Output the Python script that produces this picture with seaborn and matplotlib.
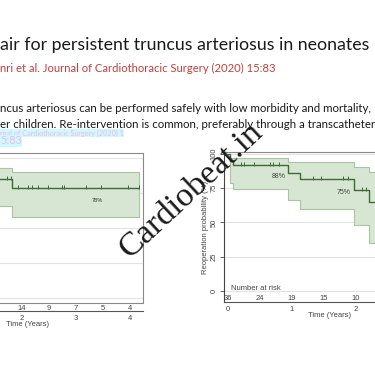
import numpy as np
import pandas as pd
import seaborn as sns
import matplotlib.pyplot as plt

# slide text (cropped at the left edge like the screenshot)
title = "air for persistent truncus arteriosus in neonates"
citation = "nri et al. Journal of Cardiothoracic Surgery (2020) 15:83"
body1 = "ncus arteriosus can be performed safely with low morbidity and mortality,"
body2 = "er children. Re-intervention is common, preferably through a transcatheter"
ghost1 = "rnal of Cardiothoracic Surgery (2020) 1"
ghost2 = "5:83"
watermark = "Cardiobeat.in"

# left panel: step curve + CI (years, %)
left_times = [1.5, 1.81, 4.17]
left_est = [85, 78.6, 78.6]
left_upper = [92.9, 90, 90]
left_lower = [65.7, 57.9, 57.9]
left_censor = [1.72, 1.79, 1.93, 2.10, 2.18, 2.30, 2.47, 2.73, 2.78, 3.18, 3.46, 3.97, 4.17]
left_ticks = [2, 3, 4]
left_risk_t = [2, 2.5, 3, 3.5, 4]
left_risk_n = [14, 9, 7, 5, 4]

# right panel: reoperation
right_times = [0, 0.03, 0.08, 0.94, 1.12, 1.97, 2.2, 2.4]
right_est = [100, 95, 91.5, 86, 81.4, 73.6, 65, 65]
ci_times = [0.03, 0.08, 0.94, 1.12, 1.97, 2.2, 2.4]
right_upper = [97, 96.7, 94, 94, 90.4, 86.7, 86.7]
right_lower = [79, 74.3, 66.3, 59.8, 48, 35, 35]
right_censor = [0.2, 0.25, 0.4, 0.65, 0.7, 0.8, 1.33, 1.46, 1.8, 1.87, 2.1, 2.16]
right_ticks = [0, 1, 2]
right_yticks = [0, 25, 50, 75, 100]
right_risk_t = [0, 0.5, 1, 1.5, 2]
right_risk_n = [36, 24, 19, 15, 10]

W = H = 375
LINE = '#3d6a36'
FILL = '#d7e6d3'
FEDGE = '#a9c4a3'

sns.set_style("white")
plt.rcParams['font.family'] = ['Liberation Sans', 'DejaVu Sans']

fig = plt.figure(figsize=(3.75, 3.75), dpi=100)
renderer = fig.canvas.get_renderer()


def fit_text(s, x0, x1, y, **kw):
    t = fig.text(x0 / W, 1 - y / H, s, ha='left', va='center', fontsize=10, **kw)
    w = t.get_window_extent(renderer).width
    t.set_fontsize(10 * (x1 - x0) / w)
    return t


fit_text(title, 0, 370, 45, family='Lato', color='#1a1a1a')
fit_text(citation, 0, 277, 68, family='Lato', color='#c23f3a')
fit_text(body1, 0, 374, 108, family='Lato', color='#1a1a1a')
fit_text(body2, 0, 375, 125, family='Lato', color='#1a1a1a')
fit_text(ghost1, 0, 125, 133, family='Lato', color='#f4b6ee',
         bbox=dict(facecolor='#cdfafd', edgecolor='none', pad=0.5))
fit_text(ghost2, 0, 22, 141, family='Lato', color='#f4b6ee',
         bbox=dict(facecolor='#cdfafd', edgecolor='none', pad=0.5))


def step_level(times, est, t):
    i = np.searchsorted(times, t, side='right') - 1
    return np.asarray(est)[i]


def style_grid(ax):
    for g in [0, 25, 50, 75, 100]:
        ax.axhline(g, color='#e3e3e3', lw=0.8, zorder=0)


# ---- left panel
axL = fig.add_axes([-89 / W, 1 - 303 / H, 232 / W, 150 / H])
axL.set_xlim(-0.06, 4.24)
axL.set_ylim(-3.6, 103.6)
style_grid(axL)
axL.fill_between(left_times, left_lower, left_upper, step='post',
                 facecolor=FILL, edgecolor=FEDGE, lw=0.8, zorder=1)
sns.lineplot(x=left_times, y=left_est, drawstyle='steps-post', color=LINE,
             lw=1.0, ax=axL, zorder=3)
sns.scatterplot(x=left_censor, y=step_level(left_times, left_est, left_censor) + 0.8,
                marker='|', s=10, color=LINE, linewidth=0.7, ax=axL, zorder=4)
axL.text(3.39, 70, "78%", fontsize=4, color='#333', ha='center', va='center')
for sp in ['top', 'right']:
    axL.spines[sp].set_color('#8a8a8a')
    axL.spines[sp].set_linewidth(0.8)
axL.spines['bottom'].set_position(('outward', 5.8))
axL.spines['bottom'].set_color('#555')
axL.spines['bottom'].set_linewidth(0.8)
axL.plot([0, 1], [0, 0], transform=axL.transAxes, color='#8a8a8a', lw=0.8, clip_on=False)
axL.set_xticks(left_ticks)
axL.set_yticks([])
axL.tick_params(axis='x', direction='out', length=2.5, width=0.6, pad=0.5,
                labelsize=5.5, colors='#444')
axL.set_xlabel("Time (Years)", fontsize=5.5, color='#444', labelpad=-1)
for t, n in zip(left_risk_t, left_risk_n):
    axL.annotate(str(n), xy=(t, 0), xycoords=('data', 'axes fraction'),
                 xytext=(0, -3.6), textcoords='offset points', ha='center',
                 va='center', fontsize=5.5, color='#444', annotation_clip=False)

# ---- right panel
axR = fig.add_axes([224 / W, 1 - 302 / H, 210 / W, 150 / H])
axR.set_xlim(-0.0625, 3.22)
axR.set_ylim(-8, 101.3)
style_grid(axR)
axR.fill_between(ci_times, right_lower, right_upper, step='post',
                 facecolor=FILL, edgecolor=FEDGE, lw=0.8, zorder=1)
sns.lineplot(x=right_times, y=right_est, drawstyle='steps-post', color=LINE,
             lw=1.0, ax=axR, zorder=3)
sns.scatterplot(x=right_censor, y=step_level(right_times, right_est, right_censor) + 0.8,
                marker='|', s=10, color=LINE, linewidth=0.7, ax=axR, zorder=4)
axR.text(0.8, 83.8, "88%", fontsize=5, color='#444', ha='center', va='center')
axR.text(1.81, 72, "75%", fontsize=5, color='#444', ha='center', va='center')
axR.text(0.05, 2.2, "Number at risk", fontsize=5.5, color='#444', ha='left', va='center')
for t, n in zip(right_risk_t, right_risk_n):
    axR.text(t, -5.1, str(n), fontsize=5.5, color='#444', ha='center', va='center')
axR.spines['top'].set_color('#8a8a8a')
axR.spines['left'].set_color('#444')
axR.spines['bottom'].set_color('#555')
for sp in ['top', 'left', 'bottom']:
    axR.spines[sp].set_linewidth(0.8)
axR.set_xticks(right_ticks)
axR.set_yticks(right_yticks)
axR.tick_params(axis='x', direction='out', length=2.5, width=0.6, pad=0.5,
                labelsize=5.5, colors='#444')
axR.tick_params(axis='y', direction='out', length=3, width=0.6, pad=1.5,
                labelsize=5.5, colors='#444', left=True)
plt.setp(axR.get_yticklabels(), rotation=90, va='center')
axR.set_xlabel("Time (Years)", fontsize=5.5, color='#444', labelpad=-1)
axR.set_ylabel("Reoperation probability (%)", fontsize=5.5, color='#444', labelpad=1)

fig.text(191 / W, 1 - 190 / H, watermark, rotation=43, rotation_mode='anchor',
         ha='center', va='center', fontsize=24.5, family='Liberation Serif', color='#1a1a1a')

fig.savefig("out.png", dpi=100, facecolor='white')
